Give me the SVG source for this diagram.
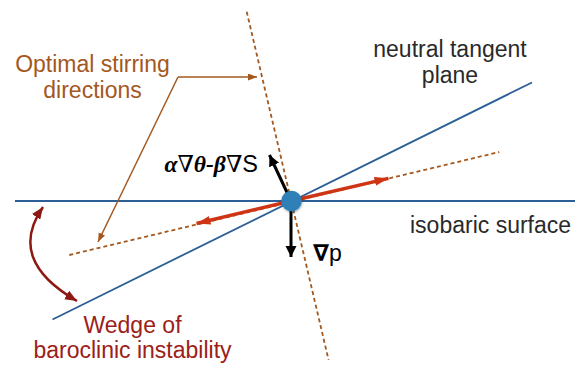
<svg xmlns="http://www.w3.org/2000/svg" width="575" height="365" viewBox="0 0 575 365">
<style>
.blue{stroke:#2b5f96;stroke-width:1.8;fill:none}
.dash{stroke:#a3581f;stroke-width:1.8;stroke-dasharray:4 3;fill:none}
.red{stroke:#cf3514;stroke-width:3.4;fill:none}
.blk{stroke:#000;stroke-width:3;fill:none}
.callout{stroke:#a3581f;stroke-width:1.5;fill:none}
.wedge{stroke:#8c1a12;stroke-width:2.5;fill:none}
.lbl{font-family:"Liberation Sans","Helvetica Neue",Arial,sans-serif;font-size:23px}
.orange{fill:#a3581f}
.dred{fill:#9b2018}
.dark{fill:#2a2a2a}
</style>
<defs>
<marker id="mRed" markerUnits="userSpaceOnUse" markerWidth="15" markerHeight="10" refX="14" refY="5" orient="auto">
<path d="M0,0.5 L14,5 L0,9.5 Z" fill="#cf3514"/>
</marker>
<marker id="mBlk" markerUnits="userSpaceOnUse" markerWidth="12" markerHeight="12" refX="11" refY="5.5" orient="auto">
<path d="M0,0 L11,5.5 L0,11 Z" fill="#000"/>
</marker>
<marker id="mBrown" markerUnits="userSpaceOnUse" markerWidth="10" markerHeight="8" refX="9" refY="3.5" orient="auto">
<path d="M0,0 L9,3.5 L0,7 Z" fill="#a3581f"/>
</marker>
<marker id="mWedge" markerUnits="userSpaceOnUse" markerWidth="13" markerHeight="10" refX="12" refY="5" orient="auto-start-reverse">
<path d="M0,0 L12,5 L0,10 Z" fill="#8c1a12"/>
</marker>
<filter id="shadow" x="-50%" y="-50%" width="200%" height="200%">
<feDropShadow dx="0.5" dy="1" stdDeviation="1" flood-color="#000" flood-opacity="0.35"/>
</filter>
</defs>

<g id="connectors">
<line class="blue" x1="15" y1="201" x2="575" y2="201"/>
<line class="blue" x1="52.5" y1="319.5" x2="532" y2="82.5"/>
<line class="dash" x1="246.7" y1="11.7" x2="328.6" y2="360"/>
<line class="dash" x1="69.3" y1="255" x2="499.3" y2="152"/>
<line class="red" x1="291" y1="201" x2="388.5" y2="178.3" marker-end="url(#mRed)"/>
<line class="red" x1="291" y1="201" x2="196.5" y2="223.5" marker-end="url(#mRed)"/>
<line class="blk" x1="291" y1="201" x2="269.5" y2="155" marker-end="url(#mBlk)"/>
<line class="blk" x1="291" y1="205" x2="291" y2="257" marker-end="url(#mBlk)"/>
<path class="callout" d="M178,77 L257,77" marker-end="url(#mBrown)"/>
<path class="callout" d="M178,77 L98,242" marker-end="url(#mBrown)"/>
<path class="wedge" d="M43,207 Q6,260 77,301" marker-start="url(#mWedge)" marker-end="url(#mWedge)"/>
</g>

<g id="center-point">
<circle cx="291.5" cy="201" r="10.3" fill="#2f80b7" filter="url(#shadow)"/>
</g>

<g id="label-optimal">
<text class="lbl orange" x="92.5" y="72" text-anchor="middle" font-size="24.5">Optimal stirring</text>
<text class="lbl orange" x="92.5" y="98" text-anchor="middle" font-size="24.5">directions</text>
</g>

<g id="label-neutral">
<text class="lbl dark" x="450" y="57" text-anchor="middle">neutral tangent</text>
<text class="lbl dark" x="450" y="83" text-anchor="middle">plane</text>
</g>

<g id="label-isobaric">
<text class="lbl dark" x="410" y="233" font-size="23.5">isobaric surface</text>
</g>

<g id="label-wedge">
<text class="lbl dred" x="132.5" y="333" text-anchor="middle">Wedge of</text>
<text class="lbl dred" x="132.5" y="358" text-anchor="middle">baroclinic instability</text>
</g>

<g id="label-grad">
<text x="258" y="172" text-anchor="end" font-size="23.5" fill="#000"><tspan font-family="Liberation Serif,serif" font-weight="bold" font-style="italic">α</tspan><tspan font-family="Liberation Serif,DejaVu Serif,serif">∇</tspan><tspan font-family="Liberation Serif,serif" font-weight="bold" font-style="italic">θ-β</tspan><tspan font-family="Liberation Serif,DejaVu Serif,serif">∇</tspan><tspan font-family="Liberation Sans,sans-serif">S</tspan></text>
</g>

<g id="label-gradp">
<text x="313" y="261" font-size="23" fill="#000"><tspan font-family="DejaVu Sans,sans-serif" font-weight="bold">∇</tspan><tspan font-family="Liberation Sans,sans-serif">p</tspan></text>
</g>
</svg>
